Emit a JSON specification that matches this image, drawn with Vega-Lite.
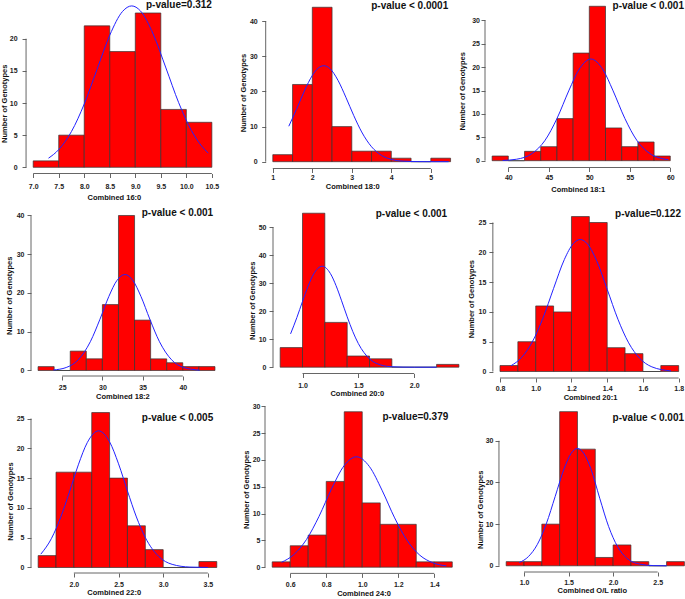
{
"$schema": "https://vega.github.io/schema/vega-lite/v6.json",
"padding": {"left": 0, "top": 0, "right": 0, "bottom": 0},
"background": "white",
"bounds": "flush",
"columns": 3,
"spacing": {"row": 27, "column": 0},
"config": {
  "font": "Liberation Sans",
  "view": {"stroke": null},
  "axis": {"labelFont": "Liberation Sans", "labelFontSize": 7, "labelFontWeight": "bold", "labelColor": "#222222", "titleFont": "Liberation Sans", "titleFontSize": 7.5, "titleFontWeight": "bold", "titleColor": "#111111", "domain": false, "grid": false, "ticks": true, "tickSize": 4, "tickColor": "#555555", "tickWidth": 0.9, "labelFlush": false, "labelOverlap": false, "labelBound": false, "titleBaseline": "middle"},
  "axisY": {"labelPadding": 3, "format": "d"},
  "rule": {"color": "#555555", "strokeWidth": 0.9},
  "text": {"font": "Liberation Sans"}
},
"concat": [
{"width": 233.4, "height": 173.5, "layer": [
 {"data": {"values": [{"lo":7.0,"hi":7.5,"n":1},{"lo":7.5,"hi":8.0,"n":5},{"lo":8.0,"hi":8.5,"n":22},{"lo":8.5,"hi":9.0,"n":18},{"lo":9.0,"hi":9.5,"n":24},{"lo":9.5,"hi":10.0,"n":9},{"lo":10.0,"hi":10.5,"n":7}]},
  "mark": {"type": "bar", "fill": "#ff0000", "stroke": "#333333", "strokeWidth": 0.7},
  "encoding": {
   "x": {"field": "lo", "type": "quantitative", "title": "Combined 16:0", "scale": {"domain": [6.957, 11.529], "nice": false, "zero": false}, "axis": {"values": [7,7.5,8,8.5,9,9.5,10,10.5], "tickCount": 30, "format": ".1f", "labelOverlap": false, "labelPadding": 4.5, "titleX": 82.9, "titleY": 23.5}},
   "x2": {"field": "hi"},
   "y": {"field": "n", "type": "quantitative", "title": "Number of Genotypes", "scale": {"domain": [-0.964, 26.02], "nice": false, "zero": false}, "axis": {"values": [0,5,10,15,20], "tickCount": 30, "labelOverlap": false, "labelPadding": 5, "offset": 4.95, "titleX": -21.2, "titleY": 103.3}},
   "y2": {"datum": 0}}},
 {"data": {"values": [{"x":7.3,"y":1.42},{"x":7.5,"y":2.75},{"x":7.75,"y":5.57},{"x":8.0,"y":9.85},{"x":8.25,"y":15.22},{"x":8.5,"y":20.55},{"x":8.75,"y":24.24},{"x":8.93,"y":25.1},{"x":9.1,"y":24.33},{"x":9.35,"y":20.73},{"x":9.6,"y":15.45},{"x":9.85,"y":10.05},{"x":10.1,"y":5.71},{"x":10.3,"y":3.3},{"x":10.43,"y":2.2}]},
  "mark": {"type": "line", "color": "#2222ff", "strokeWidth": 1, "interpolate": "monotone"},
  "encoding": {"x": {"field": "x", "type": "quantitative"}, "y": {"field": "y", "type": "quantitative"}}},
 {"data": {"values": [{}]}, "mark": {"type": "rule"},
  "encoding": {"x": {"datum": 6.86}, "y": {"datum": 0}, "y2": {"datum": 20}}},
 {"data": {"values": [{}]}, "mark": {"type": "rule"},
  "encoding": {"x": {"datum": 7.0}, "x2": {"datum": 10.5}, "y": {"datum": -0.964}}},
 {"data": {"values": [{}]}, "mark": {"type": "text", "text": "p-value=0.312", "align": "right", "baseline": "middle", "fontSize": 10, "fontWeight": "bold", "color": "#111111"},
  "encoding": {"x": {"datum": 10.5}, "y": {"datum": 25.2}}}
]},
{"width": 219.5, "height": 168.5, "layer": [
 {"data": {"values": [{"lo":1.0,"hi":1.5,"n":2},{"lo":1.5,"hi":2.0,"n":22},{"lo":2.0,"hi":2.5,"n":44},{"lo":2.5,"hi":3.0,"n":10},{"lo":3.0,"hi":3.5,"n":3},{"lo":3.5,"hi":4.0,"n":3},{"lo":4.0,"hi":4.5,"n":1},{"lo":4.5,"hi":5.0,"n":0},{"lo":5.0,"hi":5.5,"n":1}]},
  "mark": {"type": "bar", "fill": "#ff0000", "stroke": "#333333", "strokeWidth": 0.7},
  "encoding": {
   "x": {"field": "lo", "type": "quantitative", "title": "Combined 18:0", "scale": {"domain": [0.8025, 6.359], "nice": false, "zero": false}, "axis": {"values": [1,2,3,4,5], "tickCount": 30, "format": "d", "labelOverlap": false, "labelPadding": 1.2, "titleX": 87.2, "titleY": 18.2}},
   "x2": {"field": "hi"},
   "y": {"field": "n", "type": "quantitative", "title": "Number of Genotypes", "scale": {"domain": [-1.94, 46.07], "nice": false, "zero": false}, "axis": {"values": [0,10,20,30,40], "tickCount": 30, "labelOverlap": false, "labelPadding": 4.5, "offset": -0.7, "titleX": -21.9, "titleY": 92.5}},
   "y2": {"datum": 0}}},
 {"data": {"values": [{"x":1.405,"y":10.1},{"x":1.6,"y":14.93},{"x":1.8,"y":20.16},{"x":2.0,"y":24.57},{"x":2.15,"y":26.67},{"x":2.29,"y":27.35},{"x":2.45,"y":26.48},{"x":2.65,"y":23.19},{"x":2.85,"y":18.35},{"x":3.05,"y":13.12},{"x":3.25,"y":8.47},{"x":3.5,"y":4.25},{"x":3.75,"y":1.82},{"x":4.0,"y":0.66},{"x":4.3,"y":0.16},{"x":4.7,"y":0.02},{"x":5.1,"y":0},{"x":5.45,"y":0}]},
  "mark": {"type": "line", "color": "#2222ff", "strokeWidth": 1, "interpolate": "monotone"},
  "encoding": {"x": {"field": "x", "type": "quantitative"}, "y": {"field": "y", "type": "quantitative"}}},
 {"data": {"values": [{}]}, "mark": {"type": "rule"},
  "encoding": {"x": {"datum": 0.82}, "y": {"datum": 0}, "y2": {"datum": 40}}},
 {"data": {"values": [{}]}, "mark": {"type": "rule"},
  "encoding": {"x": {"datum": 1}, "x2": {"datum": 5}, "y": {"datum": -1.94}}},
 {"data": {"values": [{}]}, "mark": {"type": "text", "text": "p-value < 0.0001", "align": "right", "baseline": "middle", "fontSize": 10, "fontWeight": "bold", "color": "#111111"},
  "encoding": {"x": {"datum": 5.44}, "y": {"datum": 44.5}}}
]},
{"width": 201, "height": 167.5, "layer": [
 {"data": {"values": [{"lo":38,"hi":40,"n":1},{"lo":40,"hi":42,"n":0},{"lo":42,"hi":44,"n":2},{"lo":44,"hi":46,"n":3},{"lo":46,"hi":48,"n":9},{"lo":48,"hi":50,"n":23},{"lo":50,"hi":52,"n":33},{"lo":52,"hi":54,"n":7},{"lo":54,"hi":56,"n":3},{"lo":56,"hi":58,"n":4},{"lo":58,"hi":60,"n":1}]},
  "mark": {"type": "bar", "fill": "#ff0000", "stroke": "#333333", "strokeWidth": 0.7},
  "encoding": {
   "x": {"field": "lo", "type": "quantitative", "title": "Combined 18:1", "scale": {"domain": [37.12, 61.94], "nice": false, "zero": false}, "axis": {"values": [40,45,50,55,60], "tickCount": 30, "format": "d", "labelOverlap": false, "labelPadding": 2.2, "titleX": 92.7, "titleY": 21.8}},
   "x2": {"field": "hi"},
   "y": {"field": "n", "type": "quantitative", "title": "Number of Genotypes", "scale": {"domain": [-1.453, 34.34], "nice": false, "zero": false}, "axis": {"values": [0,5,10,15,20,25,30], "tickCount": 30, "labelOverlap": false, "labelPadding": 1.5, "titleX": -22.3, "titleY": 90.8}},
   "y2": {"datum": 0}}},
 {"data": {"values": [{"x":39.3,"y":0.06},{"x":41,"y":0.31},{"x":43,"y":1.62},{"x":44.5,"y":4.27},{"x":46,"y":8.99},{"x":47.5,"y":15.08},{"x":48.7,"y":19.41},{"x":50.2,"y":21.73},{"x":51.7,"y":19.41},{"x":52.9,"y":15.08},{"x":54.4,"y":8.99},{"x":55.9,"y":4.27},{"x":57.4,"y":1.62},{"x":58.6,"y":0.63},{"x":59.75,"y":0.23}]},
  "mark": {"type": "line", "color": "#2222ff", "strokeWidth": 1, "interpolate": "monotone"},
  "encoding": {"x": {"field": "x", "type": "quantitative"}, "y": {"field": "y", "type": "quantitative"}}},
 {"data": {"values": [{}]}, "mark": {"type": "rule"},
  "encoding": {"x": {"datum": 37.12}, "y": {"datum": 0}, "y2": {"datum": 30}}},
 {"data": {"values": [{}]}, "mark": {"type": "rule"},
  "encoding": {"x": {"datum": 40}, "x2": {"datum": 60}, "y": {"datum": -1.453}}},
 {"data": {"values": [{}]}, "mark": {"type": "text", "text": "p-value < 0.001", "align": "right", "baseline": "middle", "fontSize": 10, "fontWeight": "bold", "color": "#111111"},
  "encoding": {"x": {"datum": 61.69}, "y": {"datum": 33.16}}}
]},
{"width": 233.4, "height": 175, "layer": [
 {"data": {"values": [{"lo":22,"hi":24,"n":1},{"lo":24,"hi":26,"n":0},{"lo":26,"hi":28,"n":5},{"lo":28,"hi":30,"n":3},{"lo":30,"hi":32,"n":17},{"lo":32,"hi":34,"n":40},{"lo":34,"hi":36,"n":13},{"lo":36,"hi":38,"n":3},{"lo":38,"hi":40,"n":2},{"lo":40,"hi":42,"n":1},{"lo":42,"hi":44,"n":1}]},
  "mark": {"type": "bar", "fill": "#ff0000", "stroke": "#333333", "strokeWidth": 0.7},
  "encoding": {
   "x": {"field": "lo", "type": "quantitative", "title": "Combined 18:2", "scale": {"domain": [21.12, 50.15], "nice": false, "zero": false}, "axis": {"values": [25,30,35,40], "tickCount": 30, "format": "d", "labelOverlap": false, "labelPadding": 3.2, "titleX": 91.4, "titleY": 20.2}},
   "x2": {"field": "hi"},
   "y": {"field": "n", "type": "quantitative", "title": "Number of Genotypes", "scale": {"domain": [-1.42, 43.74], "nice": false, "zero": false}, "axis": {"values": [0,10,20,30,40], "tickCount": 30, "labelOverlap": false, "titleX": -21.1, "titleY": 94.3}},
   "y2": {"datum": 0}}},
 {"data": {"values": [{"x":23.9,"y":0.14},{"x":25.5,"y":0.77},{"x":27,"y":2.77},{"x":28.5,"y":7.43},{"x":29.7,"y":13.24},{"x":30.8,"y":19.09},{"x":31.8,"y":23.21},{"x":32.8,"y":24.77},{"x":33.8,"y":23.21},{"x":34.8,"y":19.09},{"x":35.9,"y":13.24},{"x":37.1,"y":7.43},{"x":38.6,"y":2.77},{"x":40.1,"y":0.77},{"x":42.1,"y":0.09}]},
  "mark": {"type": "line", "color": "#2222ff", "strokeWidth": 1, "interpolate": "monotone"},
  "encoding": {"x": {"field": "x", "type": "quantitative"}, "y": {"field": "y", "type": "quantitative"}}},
 {"data": {"values": [{}]}, "mark": {"type": "rule"},
  "encoding": {"x": {"datum": 21.12}, "y": {"datum": 0}, "y2": {"datum": 40}}},
 {"data": {"values": [{}]}, "mark": {"type": "rule"},
  "encoding": {"x": {"datum": 25}, "x2": {"datum": 40}, "y": {"datum": -1.42}}},
 {"data": {"values": [{}]}, "mark": {"type": "text", "text": "p-value < 0.001", "align": "right", "baseline": "middle", "fontSize": 10, "fontWeight": "bold", "color": "#111111"},
  "encoding": {"x": {"datum": 43.78}, "y": {"datum": 40.52}}}
]},
{"width": 219.5, "height": 172.5, "layer": [
 {"data": {"values": [{"lo":0.8,"hi":1.0,"n":7},{"lo":1.0,"hi":1.2,"n":55},{"lo":1.2,"hi":1.4,"n":16},{"lo":1.4,"hi":1.6,"n":4},{"lo":1.6,"hi":1.8,"n":3},{"lo":1.8,"hi":2.0,"n":0},{"lo":2.0,"hi":2.2,"n":0},{"lo":2.2,"hi":2.4,"n":1}]},
  "mark": {"type": "bar", "fill": "#ff0000", "stroke": "#333333", "strokeWidth": 0.7},
  "encoding": {
   "x": {"field": "lo", "type": "quantitative", "title": "Combined 20:0", "scale": {"domain": [0.6643, 2.629], "nice": false, "zero": false}, "axis": {"values": [1,1.5,2], "tickCount": 30, "format": ".1f", "labelOverlap": false, "labelPadding": 4, "titleX": 91.8, "titleY": 20.3}},
   "x2": {"field": "hi"},
   "y": {"field": "n", "type": "quantitative", "title": "Number of Genotypes", "scale": {"domain": [-2.25, 59.36], "nice": false, "zero": false}, "axis": {"values": [0,10,20,30,40,50], "tickCount": 30, "labelOverlap": false, "offset": -8, "titleX": -20.8, "titleY": 99.3}},
   "y2": {"datum": 0}}},
 {"data": {"values": [{"x":0.893,"y":11.9},{"x":0.95,"y":17.78},{"x":1.0,"y":23.49},{"x":1.05,"y":28.95},{"x":1.1,"y":33.3},{"x":1.176,"y":36.07},{"x":1.25,"y":33.43},{"x":1.3,"y":29.15},{"x":1.35,"y":23.71},{"x":1.4,"y":18.0},{"x":1.45,"y":12.75},{"x":1.5,"y":8.43},{"x":1.6,"y":2.99},{"x":1.7,"y":0.8},{"x":1.8,"y":0.16},{"x":1.9,"y":0.03},{"x":2.0,"y":0},{"x":2.2,"y":0}]},
  "mark": {"type": "line", "color": "#2222ff", "strokeWidth": 1, "interpolate": "monotone"},
  "encoding": {"x": {"field": "x", "type": "quantitative"}, "y": {"field": "y", "type": "quantitative"}}},
 {"data": {"values": [{}]}, "mark": {"type": "rule"},
  "encoding": {"x": {"datum": 0.736}, "y": {"datum": 0}, "y2": {"datum": 50}}},
 {"data": {"values": [{}]}, "mark": {"type": "rule"},
  "encoding": {"x": {"datum": 1}, "x2": {"datum": 2}, "y": {"datum": -2.25}}},
 {"data": {"values": [{}]}, "mark": {"type": "text", "text": "p-value < 0.001", "align": "right", "baseline": "middle", "fontSize": 10, "fontWeight": "bold", "color": "#111111"},
  "encoding": {"x": {"datum": 2.295}, "y": {"datum": 54.89}}}
]},
{"width": 201, "height": 177, "layer": [
 {"data": {"values": [{"lo":0.8,"hi":0.9,"n":1},{"lo":0.9,"hi":1.0,"n":5},{"lo":1.0,"hi":1.1,"n":11},{"lo":1.1,"hi":1.2,"n":10},{"lo":1.2,"hi":1.3,"n":26},{"lo":1.3,"hi":1.4,"n":25},{"lo":1.4,"hi":1.5,"n":4},{"lo":1.5,"hi":1.6,"n":3},{"lo":1.6,"hi":1.7,"n":0},{"lo":1.7,"hi":1.8,"n":1}]},
  "mark": {"type": "bar", "fill": "#ff0000", "stroke": "#333333", "strokeWidth": 0.7},
  "encoding": {
   "x": {"field": "lo", "type": "quantitative", "title": "Combined 20:1", "scale": {"domain": [0.7161, 1.841], "nice": false, "zero": false}, "axis": {"values": [0.8,1.0,1.2,1.4,1.6,1.8], "tickCount": 30, "format": ".1f", "labelOverlap": false, "labelPadding": 2.8, "titleX": 105, "titleY": 19.5}},
   "x2": {"field": "hi"},
   "y": {"field": "n", "type": "quantitative", "title": "Number of Genotypes", "scale": {"domain": [-1.09, 28.61], "nice": false, "zero": false}, "axis": {"values": [0,5,10,15,20,25], "tickCount": 30, "labelOverlap": false, "offset": -7.9, "titleX": -21.2, "titleY": 97.7}},
   "y2": {"datum": 0}}},
 {"data": {"values": [{"x":0.862,"y":0.98},{"x":0.92,"y":2.33},{"x":0.98,"y":4.92},{"x":1.04,"y":8.93},{"x":1.1,"y":13.95},{"x":1.16,"y":18.78},{"x":1.21,"y":21.46},{"x":1.249,"y":22.15},{"x":1.29,"y":21.39},{"x":1.34,"y":18.65},{"x":1.4,"y":13.79},{"x":1.46,"y":8.77},{"x":1.52,"y":4.81},{"x":1.58,"y":2.27},{"x":1.65,"y":0.78},{"x":1.757,"y":0.1}]},
  "mark": {"type": "line", "color": "#2222ff", "strokeWidth": 1, "interpolate": "monotone"},
  "encoding": {"x": {"field": "x", "type": "quantitative"}, "y": {"field": "y", "type": "quantitative"}}},
 {"data": {"values": [{}]}, "mark": {"type": "rule"},
  "encoding": {"x": {"datum": 0.76}, "y": {"datum": 0}, "y2": {"datum": 25}}},
 {"data": {"values": [{}]}, "mark": {"type": "rule"},
  "encoding": {"x": {"datum": 0.8}, "x2": {"datum": 1.8}, "y": {"datum": -1.09}}},
 {"data": {"values": [{}]}, "mark": {"type": "text", "text": "p-value=0.122", "align": "right", "baseline": "middle", "fontSize": 10, "fontWeight": "bold", "color": "#111111"},
  "encoding": {"x": {"datum": 1.813}, "y": {"datum": 26.51}}}
]},
{"width": 233.4, "height": 168, "layer": [
 {"data": {"values": [{"lo":1.6,"hi":1.8,"n":2},{"lo":1.8,"hi":2.0,"n":16},{"lo":2.0,"hi":2.2,"n":16},{"lo":2.2,"hi":2.4,"n":26},{"lo":2.4,"hi":2.6,"n":15},{"lo":2.6,"hi":2.8,"n":7},{"lo":2.8,"hi":3.0,"n":3},{"lo":3.0,"hi":3.2,"n":0},{"lo":3.2,"hi":3.4,"n":0},{"lo":3.4,"hi":3.6,"n":1}]},
  "mark": {"type": "bar", "fill": "#ff0000", "stroke": "#333333", "strokeWidth": 0.7},
  "encoding": {
   "x": {"field": "lo", "type": "quantitative", "title": "Combined 22:0", "scale": {"domain": [1.52, 4.133], "nice": false, "zero": false}, "axis": {"values": [2,2.5,3,3.5], "tickCount": 30, "format": ".1f", "labelOverlap": false, "labelPadding": 3.5, "titleX": 82.7, "titleY": 19.3}},
   "x2": {"field": "hi"},
   "y": {"field": "n", "type": "quantitative", "title": "Number of Genotypes", "scale": {"domain": [-0.923, 27.27], "nice": false, "zero": false}, "axis": {"values": [0,5,10,15,20,25], "tickCount": 30, "labelOverlap": false, "titleX": -20.4, "titleY": 96}},
   "y2": {"datum": 0}}},
 {"data": {"values": [{"x":1.63,"y":2.24},{"x":1.75,"y":4.9},{"x":1.85,"y":8.33},{"x":1.95,"y":12.66},{"x":2.05,"y":17.23},{"x":2.15,"y":20.96},{"x":2.277,"y":22.93},{"x":2.4,"y":21.08},{"x":2.5,"y":17.4},{"x":2.6,"y":12.84},{"x":2.7,"y":8.48},{"x":2.8,"y":5.02},{"x":2.95,"y":1.85},{"x":3.1,"y":0.53},{"x":3.3,"y":0.07},{"x":3.5,"y":0.01}]},
  "mark": {"type": "line", "color": "#2222ff", "strokeWidth": 1, "interpolate": "monotone"},
  "encoding": {"x": {"field": "x", "type": "quantitative"}, "y": {"field": "y", "type": "quantitative"}}},
 {"data": {"values": [{}]}, "mark": {"type": "rule"},
  "encoding": {"x": {"datum": 1.52}, "y": {"datum": 0}, "y2": {"datum": 25}}},
 {"data": {"values": [{}]}, "mark": {"type": "rule"},
  "encoding": {"x": {"datum": 2}, "x2": {"datum": 3.5}, "y": {"datum": -0.923}}},
 {"data": {"values": [{}]}, "mark": {"type": "text", "text": "p-value < 0.005", "align": "right", "baseline": "middle", "fontSize": 10, "fontWeight": "bold", "color": "#111111"},
  "encoding": {"x": {"datum": 3.56}, "y": {"datum": 25.17}}}
]},
{"width": 219.5, "height": 168.4, "layer": [
 {"data": {"values": [{"lo":0.5,"hi":0.6,"n":1},{"lo":0.6,"hi":0.7,"n":4},{"lo":0.7,"hi":0.8,"n":6},{"lo":0.8,"hi":0.9,"n":16},{"lo":0.9,"hi":1.0,"n":29},{"lo":1.0,"hi":1.1,"n":12},{"lo":1.1,"hi":1.2,"n":8},{"lo":1.2,"hi":1.3,"n":8},{"lo":1.3,"hi":1.4,"n":1},{"lo":1.4,"hi":1.5,"n":1}]},
  "mark": {"type": "bar", "fill": "#ff0000", "stroke": "#333333", "strokeWidth": 0.7},
  "encoding": {
   "x": {"field": "lo", "type": "quantitative", "title": "Combined 24:0", "scale": {"domain": [0.46, 1.679], "nice": false, "zero": false}, "axis": {"values": [0.6,0.8,1.0,1.2,1.4], "tickCount": 30, "format": ".1f", "labelOverlap": false, "labelPadding": 3.1, "titleX": 98.5, "titleY": 19.6}},
   "x2": {"field": "hi"},
   "y": {"field": "n", "type": "quantitative", "title": "Number of Genotypes", "scale": {"domain": [-1.157, 30.26], "nice": false, "zero": false}, "axis": {"values": [0,5,10,15,20,25,30], "tickCount": 30, "labelOverlap": false, "labelPadding": 1, "titleX": -18.8, "titleY": 84.3}},
   "y2": {"datum": 0}}},
 {"data": {"values": [{"x":0.552,"y":0.92},{"x":0.62,"y":2.35},{"x":0.69,"y":5.15},{"x":0.76,"y":9.48},{"x":0.83,"y":14.65},{"x":0.9,"y":18.96},{"x":0.968,"y":20.6},{"x":1.04,"y":18.77},{"x":1.11,"y":14.36},{"x":1.18,"y":9.2},{"x":1.25,"y":4.95},{"x":1.32,"y":2.23},{"x":1.39,"y":0.85},{"x":1.467,"y":0.24}]},
  "mark": {"type": "line", "color": "#2222ff", "strokeWidth": 1, "interpolate": "monotone"},
  "encoding": {"x": {"field": "x", "type": "quantitative"}, "y": {"field": "y", "type": "quantitative"}}},
 {"data": {"values": [{}]}, "mark": {"type": "rule"},
  "encoding": {"x": {"datum": 0.46}, "y": {"datum": 0}, "y2": {"datum": 30}}},
 {"data": {"values": [{}]}, "mark": {"type": "rule"},
  "encoding": {"x": {"datum": 0.6}, "x2": {"datum": 1.4}, "y": {"datum": -1.157}}},
 {"data": {"values": [{}]}, "mark": {"type": "text", "text": "p-value=0.379", "align": "right", "baseline": "middle", "fontSize": 10, "fontWeight": "bold", "color": "#111111"},
  "encoding": {"x": {"datum": 1.478}, "y": {"datum": 27.93}}}
]},
{"width": 201, "height": 167, "layer": [
 {"data": {"values": [{"lo":0.8,"hi":1.0,"n":1},{"lo":1.0,"hi":1.2,"n":1},{"lo":1.2,"hi":1.4,"n":10},{"lo":1.4,"hi":1.6,"n":37},{"lo":1.6,"hi":1.8,"n":28},{"lo":1.8,"hi":2.0,"n":2},{"lo":2.0,"hi":2.2,"n":5},{"lo":2.2,"hi":2.4,"n":1},{"lo":2.4,"hi":2.6,"n":0},{"lo":2.6,"hi":2.8,"n":1}]},
  "mark": {"type": "bar", "fill": "#ff0000", "stroke": "#333333", "strokeWidth": 0.7},
  "encoding": {
   "x": {"field": "lo", "type": "quantitative", "title": "Combined O/L ratio", "scale": {"domain": [0.5623, 2.818], "nice": false, "zero": false}, "axis": {"values": [1,1.5,2,2.5], "tickCount": 30, "format": ".1f", "labelOverlap": false, "labelPadding": 2.2, "titleX": 106.8, "titleY": 18.8}},
   "x2": {"field": "hi"},
   "y": {"field": "n", "type": "quantitative", "title": "Number of Genotypes", "scale": {"domain": [-1.488, 38.59], "nice": false, "zero": false}, "axis": {"values": [0,10,20,30], "tickCount": 30, "labelOverlap": false, "labelPadding": 2, "offset": -14, "titleX": -18.5, "titleY": 104.3}},
   "y2": {"datum": 0}}},
 {"data": {"values": [{"x":0.947,"y":0.77},{"x":1.05,"y":2.22},{"x":1.15,"y":5.14},{"x":1.25,"y":10.06},{"x":1.35,"y":16.65},{"x":1.45,"y":23.3},{"x":1.53,"y":27.02},{"x":1.6,"y":28.15},{"x":1.67,"y":27.02},{"x":1.75,"y":23.3},{"x":1.85,"y":16.2},{"x":1.95,"y":9.4},{"x":2.05,"y":4.6},{"x":2.15,"y":1.9},{"x":2.3,"y":0.4},{"x":2.45,"y":0.05},{"x":2.6,"y":0}]},
  "mark": {"type": "line", "color": "#2222ff", "strokeWidth": 1, "interpolate": "monotone"},
  "encoding": {"x": {"field": "x", "type": "quantitative"}, "y": {"field": "y", "type": "quantitative"}}},
 {"data": {"values": [{}]}, "mark": {"type": "rule"},
  "encoding": {"x": {"datum": 0.719}, "y": {"datum": 0}, "y2": {"datum": 30}}},
 {"data": {"values": [{}]}, "mark": {"type": "rule"},
  "encoding": {"x": {"datum": 1}, "x2": {"datum": 2.5}, "y": {"datum": -1.488}}},
 {"data": {"values": [{}]}, "mark": {"type": "text", "text": "p-value < 0.001", "align": "right", "baseline": "middle", "fontSize": 10, "fontWeight": "bold", "color": "#111111"},
  "encoding": {"x": {"datum": 2.796}, "y": {"datum": 35.59}}}
]}
]
}
